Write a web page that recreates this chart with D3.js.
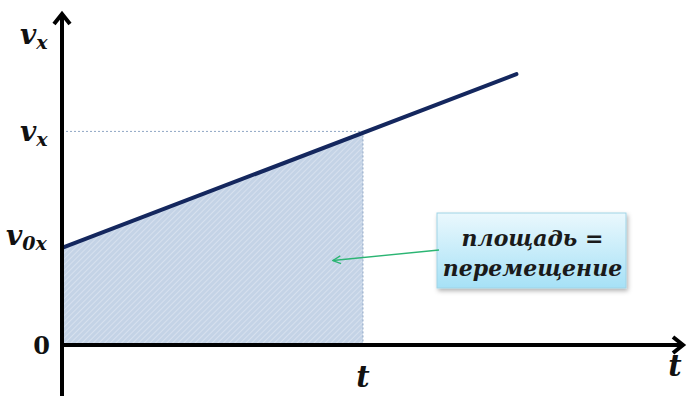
<!DOCTYPE html>
<html>
<head>
<meta charset="utf-8">
<script src="https://cdn.jsdelivr.net/npm/d3@7/dist/d3.min.js"></script>
<style>
  html, body { margin: 0; padding: 0; background: #fff; }
  svg { display: block; }
</style>
</head>
<body>
<svg id="chart"></svg>
<script>
//  chart values (time in units of t, velocity in units of v0x)
const lineT = [0, 1.51];
const lineV = [1, 2.79];
const markT = 1;
const markV = 2.2;
const startV = 1;
const calloutLines = ["площадь =", "перемещение"];
const arrowTarget = [0.9, 0.87];   //  point in the area the callout points to

const w = 688;
const h = 396;
const margin = ({top: 12, right: 3, bottom: 0, left: 62});

const svg = d3.select("#chart").attr("width", w).attr("height", h);

const x = d3.scaleLinear().domain([0, 2.07]).range([margin.left, w - margin.right]);
const y = d3.scaleLinear().domain([0, 3.43]).range([345, margin.top]);

const serif = "'DejaVu Serif', 'Liberation Serif', serif";

//  hatch pattern for the area
const defs = svg.append("defs");
const pat = defs.append("pattern")
  .attr("id", "hatch")
  .attr("patternUnits", "userSpaceOnUse")
  .attr("width", 4).attr("height", 4)
  .attr("patternTransform", "rotate(45)");
pat.append("rect").attr("width", 4).attr("height", 4).attr("fill", "#c4d3e6");
pat.append("line").attr("x1", 0).attr("y1", 0).attr("x2", 0).attr("y2", 4)
  .attr("stroke", "#e2eaf4").attr("stroke-width", 1.2);

//  callout gradient + shadow
const grad = defs.append("linearGradient").attr("id", "boxgrad")
  .attr("x1", 0).attr("y1", 0).attr("x2", 0).attr("y2", 1);
grad.append("stop").attr("offset", "0%").attr("stop-color", "#eaf8fd");
grad.append("stop").attr("offset", "100%").attr("stop-color", "#a6e1f6");
const filt = defs.append("filter").attr("id", "shadow")
  .attr("x", "-10%").attr("y", "-10%").attr("width", "130%").attr("height", "140%");
filt.append("feDropShadow").attr("dx", 1.5).attr("dy", 2.5).attr("stdDeviation", 2)
  .attr("flood-color", "#000").attr("flood-opacity", 0.3);

//  green arrow marker
defs.append("marker").attr("id", "greenArrow")
  .attr("viewBox", "0 0 10 10").attr("refX", 9).attr("refY", 5)
  .attr("markerWidth", 7).attr("markerHeight", 7)
  .attr("markerUnits", "strokeWidth").attr("orient", "auto")
  .append("path").attr("d", "M1,1 L9,5 L1,9")
  .attr("fill", "none").attr("stroke", "#2bb573").attr("stroke-width", 1.4);

//  area under the line up to t
const vAt = t => lineV[0] + (lineV[1] - lineV[0]) * (t - lineT[0]) / (lineT[1] - lineT[0]);
const areaPts = [[0, 0], [0, vAt(0)], [markT, vAt(markT)], [markT, 0]];
svg.append("path")
  .attr("d", d3.line().x(d => x(d[0])).y(d => y(d[1]))(areaPts) + "Z")
  .attr("fill", "url(#hatch)");

//  dotted guides
svg.append("line")
  .attr("x1", x(0)).attr("x2", x(markT))
  .attr("y1", y(markV)).attr("y2", y(markV))
  .attr("stroke", "#8fa6c4").attr("stroke-width", 1).attr("stroke-dasharray", "2,2");
svg.append("line")
  .attr("x1", x(markT)).attr("x2", x(markT))
  .attr("y1", y(markV)).attr("y2", y(0))
  .attr("stroke", "#8fa6c4").attr("stroke-width", 1).attr("stroke-dasharray", "2,2");

//  velocity line
svg.append("path")
  .datum(lineT.map((t, i) => [t, lineV[i]]))
  .attr("d", d3.line().x(d => x(d[0])).y(d => y(d[1])))
  .attr("stroke", "#14275e").attr("stroke-width", 4).attr("stroke-linecap", "round")
  .attr("fill", "none");

//  axes
const x0 = x(0), y0 = y(0), yTop = y.range()[1], xEnd = x.range()[1];
svg.append("line")
  .attr("x1", x0).attr("y1", h).attr("x2", x0).attr("y2", yTop + 2)
  .attr("stroke", "#000").attr("stroke-width", 4);
svg.append("path")
  .attr("d", `M${x0 - 8},${yTop + 12} L${x0},${yTop + 2} L${x0 + 8},${yTop + 12}`)
  .attr("fill", "none").attr("stroke", "#000").attr("stroke-width", 4)
  .attr("stroke-linejoin", "miter");
svg.append("line")
  .attr("x1", x0 - 2).attr("y1", y0).attr("x2", xEnd - 2).attr("y2", y0)
  .attr("stroke", "#000").attr("stroke-width", 4);
svg.append("path")
  .attr("d", `M${xEnd - 12},${y0 - 8} L${xEnd - 2},${y0} L${xEnd - 12},${y0 + 8}`)
  .attr("fill", "none").attr("stroke", "#000").attr("stroke-width", 4)
  .attr("stroke-linejoin", "miter");

//  labels
function velLabel(px, py, sub) {
  const t = svg.append("text")
    .attr("x", px).attr("y", py)
    .style("font-family", serif).style("font-style", "italic").style("font-weight", "bold")
    .style("font-size", "28px").style("fill", "#111");
  t.append("tspan").text("v");
  t.append("tspan").attr("dy", 5).style("font-size", "19px").text(sub);
}
velLabel(20, 44, "x");
velLabel(20, y(markV) + 10, "x");
velLabel(6, y(startV) - 3, "0x");

svg.append("text")
  .attr("x", 50).attr("y", y0 + 9).attr("text-anchor", "end")
  .style("font-family", serif).style("font-weight", "bold")
  .style("font-size", "24px").style("fill", "#111").text("0");

svg.append("text")
  .attr("x", x(markT)).attr("y", 387).attr("text-anchor", "middle")
  .style("font-family", serif).style("font-style", "italic").style("font-weight", "bold")
  .style("font-size", "29px").style("fill", "#111").text("t");
svg.append("text")
  .attr("x", 675).attr("y", 376).attr("text-anchor", "middle")
  .style("font-family", serif).style("font-style", "italic").style("font-weight", "bold")
  .style("font-size", "29px").style("fill", "#111").text("t");

//  callout box
const box = ({x: 437, y: 213, w: 189, h: 75});
svg.append("rect")
  .attr("x", box.x).attr("y", box.y).attr("width", box.w).attr("height", box.h)
  .attr("fill", "url(#boxgrad)").attr("stroke", "#9fd3e6").attr("stroke-width", 1)
  .attr("filter", "url(#shadow)");
svg.selectAll("text.callout")
  .data(calloutLines).enter().append("text")
  .attr("class", "callout")
  .attr("x", box.x + box.w / 2 + 1)
  .attr("y", (_, i) => box.y + 33 + i * 30)
  .attr("text-anchor", "middle")
  .style("font-family", serif).style("font-style", "italic").style("font-weight", "bold")
  .style("font-size", "22px").style("fill", "#1a1a1a")
  .text(d => d);

//  green pointer
svg.append("line")
  .attr("x1", box.x + 2).attr("y1", 250)
  .attr("x2", x(arrowTarget[0])).attr("y2", y(arrowTarget[1]))
  .attr("stroke", "#2bb573").attr("stroke-width", 1.4)
  .attr("marker-end", "url(#greenArrow)");
</script>
</body>
</html>
